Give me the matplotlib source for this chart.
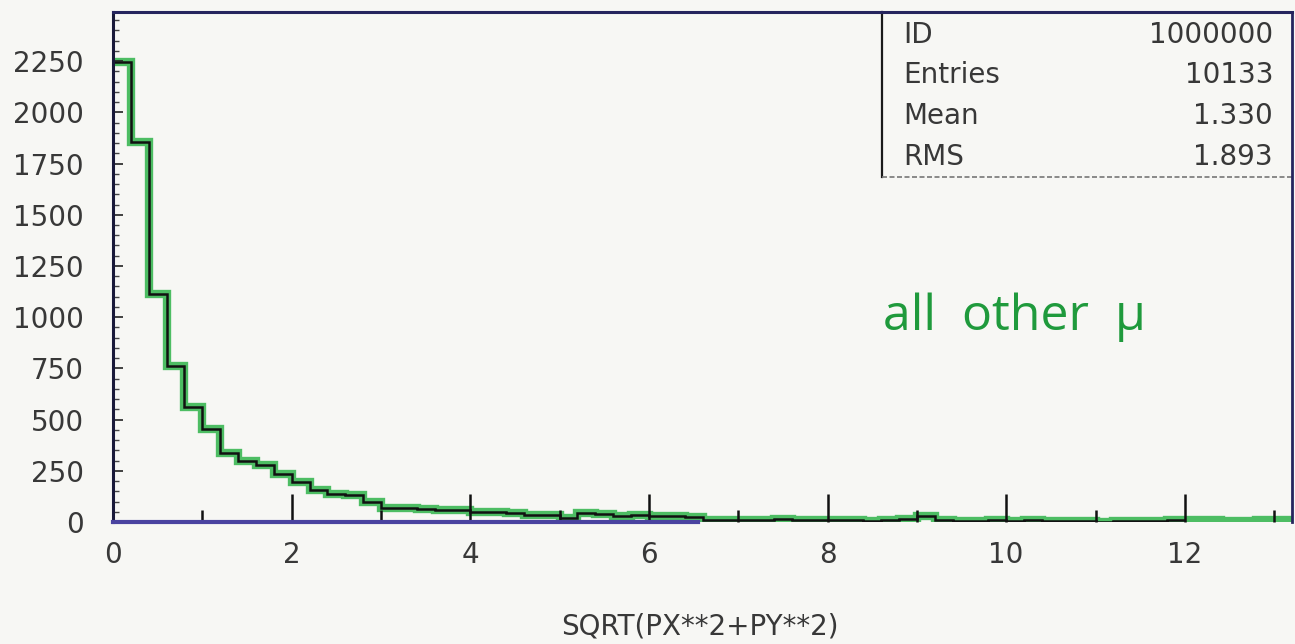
import numpy as np
import matplotlib
matplotlib.use("Agg")
import matplotlib.pyplot as plt
from matplotlib.ticker import MultipleLocator

# ---- data ----
bin_low = 0.0
bin_high = 13.2
counts = [2248, 1857, 1113, 762, 563, 452, 337, 299, 278, 235,
          193, 158, 138, 130, 100, 70, 66, 64, 60, 58,
          50, 47, 44, 36, 34, 18, 45, 40, 27, 36,
          30, 28, 22, 12, 10, 12, 8, 14, 10, 9,
          8, 9, 7, 10, 14, 30, 8, 7, 6, 8,
          7, 8, 6, 5, 6, 2, 3, 3, 4, 9,
          8, 8, 7, 7, 8, 10]
x_ticklabels = ["0", "2", "4", "6", "8", "10", "12"]
y_ticklabels = ["0", "250", "500", "750", "1000", "1250", "1500", "1750", "2000", "2250"]
stat_names = ["ID", "Entries", "Mean", "RMS"]
stat_values = ["1000000", "10133", "1.330", "1.893"]
x_label = "SQRT(PX**2+PY**2)"
note = "all  other  \u03bc"

edges = np.linspace(bin_low, bin_high, len(counts) + 1)

plt.rcParams['font.family'] = ['DejaVu Sans']
W, H, DPI = 1295, 644, 100
TXT = "#383838"
FS = 20
fig = plt.figure(figsize=(W / DPI, H / DPI), dpi=DPI, facecolor="#f7f7f4")
ax = fig.add_axes([113 / W, 1 - 522 / H, (1292 - 113) / W, (522 - 12) / H])
ax.set_facecolor("#f7f7f4")

# green highlighter then black histogram
ax.stairs(counts, edges, color="#2fb34a", lw=6.0, alpha=0.85, baseline=None)
ax.stairs(counts[:60], edges[:61], color="#111111", lw=1.8, baseline=None)

ax.set_xlim(bin_low, bin_high)
ax.set_ylim(0, 2490)

ax.set_xticks([float(t) for t in x_ticklabels])
ax.set_xticklabels(x_ticklabels)
ax.xaxis.set_minor_locator(MultipleLocator(1))
ax.set_yticks([float(t) for t in y_ticklabels])
ax.set_yticklabels(y_ticklabels)
ax.yaxis.set_minor_locator(MultipleLocator(50))

ax.tick_params(axis="x", which="major", direction="in", length=20, width=1.8,
               color="#111111", labelsize=FS, labelcolor=TXT, pad=14)
ax.tick_params(axis="x", which="minor", direction="in", length=9, width=1.8,
               color="#111111")
ax.tick_params(axis="y", which="major", direction="in", length=7, width=1.2,
               color="#222222", labelsize=FS, labelcolor=TXT, pad=21)
ax.tick_params(axis="y", which="minor", direction="in", length=4, width=1.0,
               color="#444444")

for side, col, lw in [("top", "#26255e", 2.2), ("left", "#1a1a3a", 2.2),
                      ("right", "#26255e", 2.0), ("bottom", "#4a43a0", 3.0)]:
    ax.spines[side].set_color(col)
    ax.spines[side].set_linewidth(lw)
ax.spines["bottom"].set_bounds(0, 6.55)

fig.text(700 / W, 1 - 627 / H, x_label, fontsize=FS, color=TXT,
         ha="center", va="center")

# statistics box
bx0 = (882 - 113) / (1292 - 113)
by0 = (522 - 177) / (522 - 12)
ax.plot([bx0, bx0], [by0, 1.0], transform=ax.transAxes, color="#1a1a1a", lw=1.6,
        clip_on=False)
ax.plot([bx0, 1.0], [by0, by0], transform=ax.transAxes, color="#777777", lw=1.2,
        ls=(0, (3, 1.5)), clip_on=False)
row_y = [35, 75, 116, 157]
for name, val, py in zip(stat_names, stat_values, row_y):
    yy = (522 - py) / (522 - 12)
    ax.text((903 - 113) / (1292 - 113), yy, name, transform=ax.transAxes,
            fontsize=FS, color=TXT, va="center", ha="left")
    ax.text((1273 - 113) / (1292 - 113), yy, val, transform=ax.transAxes,
            fontsize=FS, color=TXT, va="center", ha="right")

# handwritten note
ax.text(8.62, 935, note, fontsize=36, color="#1f9a3c",
        ha="left", va="baseline", family=["Open Sans", "DejaVu Sans"])

fig.savefig("out.png", dpi=DPI, facecolor=fig.get_facecolor())
